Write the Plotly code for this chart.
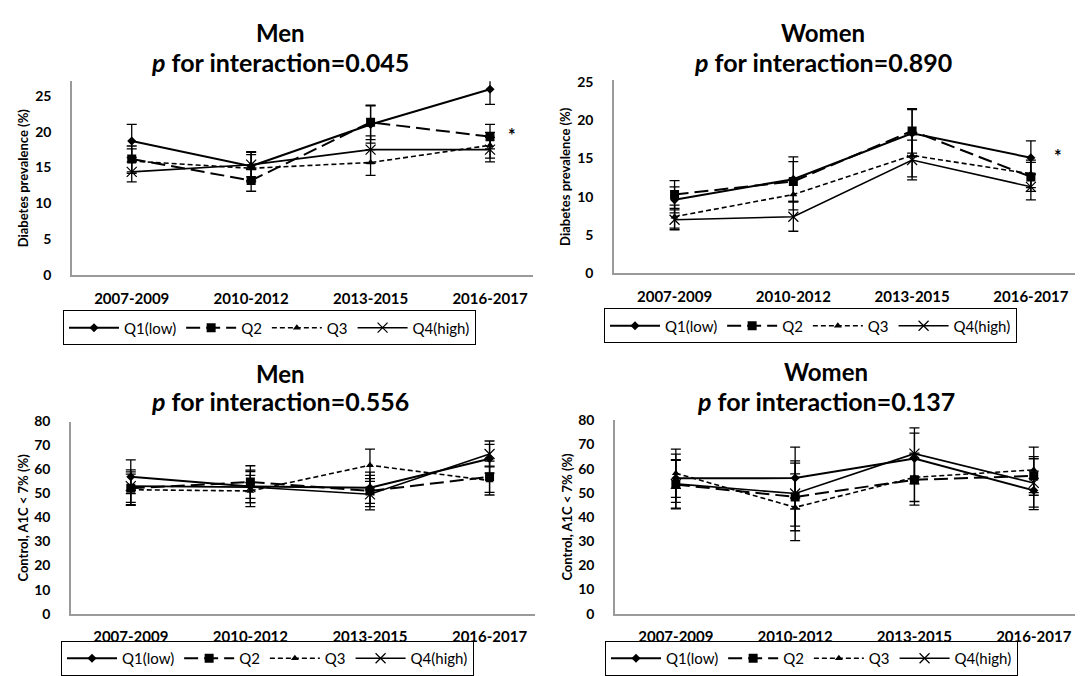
import plotly.graph_objects as go

periods = ["2007-2009", "2010-2012", "2013-2015", "2016-2017"]
series_names = ["Q1(low)", "Q2", "Q3", "Q4(high)"]

# Panel 1: Men, diabetes prevalence (%)
men_dm = {
    "Q1(low)": [18.7, 15.2, 21.0, 25.9],
    "Q2": [16.2, 13.2, 21.3, 19.3],
    "Q3": [15.9, 14.9, 15.7, 18.1],
    "Q4(high)": [14.4, 15.4, 17.5, 17.5],
}
men_dm_err = {
    "Q1(low)": [2.3, 2.0, 2.6, 2.1],
    "Q2": [1.8, 1.5, 2.4, 1.7],
    "Q3": [1.7, 1.9, 1.8, 1.8],
    "Q4(high)": [1.4, 1.7, 1.9, 1.7],
}
# Panel 2: Women, diabetes prevalence (%)
women_dm = {
    "Q1(low)": [9.6, 12.3, 18.3, 15.1],
    "Q2": [10.3, 12.0, 18.6, 12.6],
    "Q3": [7.4, 10.3, 15.4, 13.0],
    "Q4(high)": [7.0, 7.4, 14.8, 11.3],
}
women_dm_err = {
    "Q1(low)": [1.7, 2.9, 3.1, 2.2],
    "Q2": [1.8, 2.6, 2.9, 1.9],
    "Q3": [1.5, 2.0, 2.8, 1.8],
    "Q4(high)": [1.3, 1.9, 2.6, 1.7],
}
# Panel 3: Men, control A1C < 7% (%)
men_a1c = {
    "Q1(low)": [57.0, 53.0, 52.4, 64.5],
    "Q2": [52.2, 54.8, 51.1, 57.0],
    "Q3": [51.6, 51.1, 61.8, 55.4],
    "Q4(high)": [53.1, 52.7, 49.7, 66.5],
}
men_a1c_err = {
    "Q1(low)": [7.0, 6.8, 6.5, 6.0],
    "Q2": [6.8, 6.8, 6.5, 6.5],
    "Q3": [6.5, 6.5, 6.7, 6.0],
    "Q4(high)": [6.8, 6.5, 6.5, 5.4],
}
# Panel 4: Women, control A1C < 7% (%)
women_a1c = {
    "Q1(low)": [56.0, 56.1, 64.2, 51.0],
    "Q2": [53.4, 48.3, 55.4, 57.0],
    "Q3": [58.1, 44.0, 56.4, 59.5],
    "Q4(high)": [53.7, 49.7, 66.2, 54.1],
}
women_a1c_err = {
    "Q1(low)": [10.0, 12.8, 10.5, 8.0],
    "Q2": [10.0, 14.0, 10.5, 8.0],
    "Q3": [10.0, 13.8, 10.0, 9.4],
    "Q4(high)": [10.0, 13.5, 10.7, 10.0],
}

panel_titles = ["Men", "Women", "Men", "Women"]
p_values = ["0.045", "0.890", "0.556", "0.137"]
y_titles = ["Diabetes prevalence (%)", "Diabetes prevalence (%)",
            "Control, A1C < 7% (%)", "Control, A1C < 7% (%)"]
y_ticks = [[0, 5, 10, 15, 20, 25], [0, 5, 10, 15, 20, 25],
           [0, 10, 20, 30, 40, 50, 60, 70, 80], [0, 10, 20, 30, 40, 50, 60, 70, 80]]
y_ranges = [[0, 27.0], [0, 25.2], [0, 80], [0, 80.3]]
star_marks = [(3.18, 19.6), (3.23, 15.35), None, None]

W, H = 1083, 676
FONT = "Lato, 'Open Sans', sans-serif"

styles = {
    "Q1(low)": dict(line=dict(color="black", width=2, dash="solid"),
                    marker=dict(symbol="diamond", size=7, color="black")),
    "Q2": dict(line=dict(color="black", width=2, dash="14px,6px"),
               marker=dict(symbol="square", size=9, color="black")),
    "Q3": dict(line=dict(color="black", width=1.6, dash="5px,3px"),
               marker=dict(symbol="triangle-up", size=7, color="black")),
    "Q4(high)": dict(line=dict(color="black", width=1.6, dash="solid"),
                     marker=dict(symbol="x-thin", size=10, color="black",
                                 line=dict(width=1.2, color="black"))),
}

# plot areas in pixels: (left, right, top, bottom)
areas = [(64, 525, 66, 265), (606, 1068, 65, 263), (63, 527, 415, 612), (607, 1083, 413, 612)]
x_ranges = [[-0.5, 3.36], [-0.51, 3.38], [-0.5, 3.38], [-0.51, 3.48]]
title_cx = [272, 815, 272, 818]
title_y = [(16, 46), (16, 46), (366, 394), (364, 394)]
ytitle_x = [15, 557, 15, 559]
# legend anchor: (left px, y px, anchor)
legend_pos = [(55, 301, "top"), (596, 299, "top"), (53, 676, "bottom"), (597, 676, "bottom")]

datasets = [(men_dm, men_dm_err), (women_dm, women_dm_err),
            (men_a1c, men_a1c_err), (women_a1c, women_a1c_err)]

fig = go.Figure()
layout = dict(width=W, height=H, margin=dict(l=0, r=0, t=0, b=0),
              paper_bgcolor="white", plot_bgcolor="white",
              font=dict(family=FONT, color="black"), annotations=[])

for i, (vals, errs) in enumerate(datasets):
    k = "" if i == 0 else str(i + 1)
    xa, ya = "x" + k, "y" + k
    leg = "legend" + k
    for name in series_names:
        fig.add_trace(go.Scatter(
            x=periods, y=vals[name], name=name, mode="lines+markers",
            xaxis=xa, yaxis=ya, legend=leg,
            error_y=dict(type="data", array=errs[name], color="black",
                         thickness=1.3, width=5),
            **styles[name]))
    l, r, t, b = areas[i]
    layout["xaxis" + k] = dict(
        domain=[l / W, r / W], anchor=ya, type="category", range=x_ranges[i],
        showline=True, linecolor="#9a9a9a", linewidth=1.5, showgrid=False,
        zeroline=False, ticks="", ticklabelstandoff=9,
        tickfont=dict(family=FONT, size=15, color="black", weight="bold"))
    layout["yaxis" + k] = dict(
        domain=[1 - b / H, 1 - t / H], anchor=xa, range=y_ranges[i],
        tickvals=y_ticks[i], showline=True, linecolor="#9a9a9a", linewidth=1.5,
        showgrid=False, zeroline=False, ticks="", ticklabelstandoff=16,
        tickfont=dict(family=FONT, size=14, color="black", weight="bold"))
    lx, ly, anc = legend_pos[i]
    layout[leg] = dict(
        x=lx / W, y=1 - ly / H, xanchor="left", yanchor=anc, orientation="h",
        bordercolor="black", borderwidth=1, bgcolor="white",
        font=dict(family=FONT, size=15, color="black"), itemwidth=50,
        traceorder="normal")
    layout["annotations"].append(dict(
        text="<b>" + panel_titles[i] + "</b>", xref="paper", yref="paper",
        x=title_cx[i] / W, y=1 - title_y[i][0] / H, xanchor="center", yanchor="middle",
        showarrow=False, font=dict(family=FONT, size=24, color="black")))
    layout["annotations"].append(dict(
        text="<b><i>p</i> for interaction=" + p_values[i] + "</b>", xref="paper", yref="paper",
        x=title_cx[i] / W, y=1 - title_y[i][1] / H, xanchor="center", yanchor="middle",
        showarrow=False, font=dict(family=FONT, size=25, color="black")))
    layout["annotations"].append(dict(
        text="<b>" + y_titles[i] + "</b>", xref="paper", yref="paper",
        x=ytitle_x[i] / W, y=1 - ((t + b) / 2) / H, xanchor="center", yanchor="middle",
        textangle=-90, showarrow=False, font=dict(family=FONT, size=13, color="black")))
    if star_marks[i] is not None:
        sx, sy = star_marks[i]
        layout["annotations"].append(dict(
            text="<b>*</b>", xref=xa, yref=ya, x=sx, y=sy, showarrow=False,
            xanchor="center", yanchor="middle",
            font=dict(family=FONT, size=18, color="black")))

fig.update_layout(**layout)
fig.write_html("out.html")
